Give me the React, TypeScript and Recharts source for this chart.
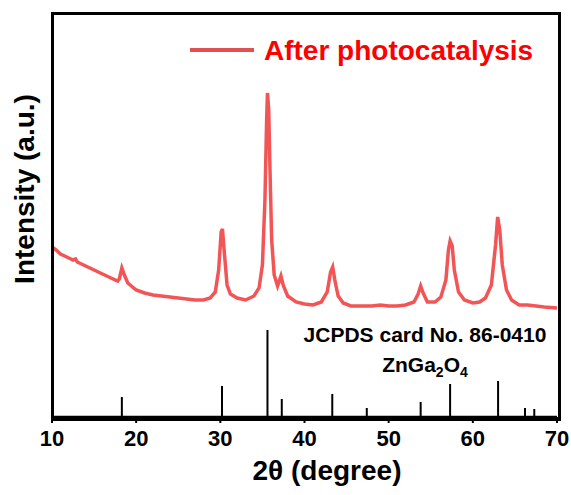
import {
  ComposedChart,
  Line,
  XAxis,
  YAxis,
  ReferenceLine
} from "recharts";

// measured pattern (2θ in degree, intensity in a.u.)
const twoTheta = [
  10, 10.5, 11, 11.5, 12, 12.5, 12.8, 13, 14, 15, 16, 17, 17.8, 18, 18.3, 18.6, 19, 20,
  21, 22, 23, 24, 25, 26, 27, 28, 28.8, 29.4, 29.8, 30.1, 30.25, 30.5, 30.8, 31.2, 32,
  33, 34, 34.6, 35, 35.3, 35.5, 35.6, 35.75, 35.9, 36.1, 36.4, 36.8, 37.2, 37.5, 38, 39,
  40, 41, 42, 42.7, 43.1, 43.35, 43.6, 44, 44.6, 45.5, 47, 48, 49, 50, 51, 52, 53, 53.5,
  53.8, 54.1, 54.6, 55.5, 56.2, 56.8, 57.1, 57.3, 57.55, 57.8, 58.3, 59, 60, 60.8, 61.5,
  62.2, 62.7, 62.95, 63.2, 63.5, 64, 64.6, 65.5, 66.5, 67.5, 68.5, 70
];
const intensity = [
  170, 167, 163, 161, 159, 157, 158, 155, 151, 147, 143, 139, 136, 138, 149, 142, 134, 127,
  124, 122, 121, 120, 119, 118, 117, 117, 119, 125, 147, 185, 188, 162, 132, 123, 119,
  117, 121, 129, 152, 217, 297, 324, 307, 247, 177, 142, 131, 141, 131, 121, 115,
  113, 112, 115, 125, 145, 150, 137, 121, 114, 111, 111, 111, 112, 111, 111, 112, 115, 123,
  131, 124, 115, 115, 120, 137, 167, 176, 171, 147, 125, 117, 114, 115, 119,
  132, 172, 200, 187, 152, 127, 117, 112, 112, 111, 110, 109
];

// JCPDS 86-0410 reference lines
const refTheta = [18.3, 30.2, 35.6, 37.3, 43.3, 47.4, 53.8, 57.3, 63.0, 66.2, 67.3];
const refHeight = [20, 31, 87, 18, 23, 9, 15, 33, 36, 9, 8];

const majorTicks = [10, 20, 30, 40, 50, 60, 70];
const minorTicks = [15, 25, 35, 45, 55, 65];

const data = twoTheta.map((t, i) => ({ t, y: intensity[i] }));
const allTicks = [...majorTicks, ...minorTicks].sort((a, b) => a - b);

const font = "'Liberation Sans', Arial, sans-serif";

const W = 571;
const H = 495;
const margin = { top: 13, right: 14, bottom: 0, left: 52 };
const xAxisHeight = 78;
const plotW = W - margin.left - margin.right;
const plotH = H - margin.top - xAxisHeight;

const XTick = (props: any) => {
  const { x, y, payload } = props;
  const major = majorTicks.includes(payload.value);
  return (
    <g>
      <line x1={x} x2={x} y1={y} y2={y + (major ? 6 : 3)} stroke="#000" strokeWidth={2} />
      {major && (
        <text x={x} y={y + 29} textAnchor="middle" fontFamily={font} fontWeight="bold" fontSize={22} fill="#000">
          {payload.value}
        </text>
      )}
    </g>
  );
};

export default function App() {
  return (
    <div style={{ position: "absolute", left: 0, top: 0, width: W, height: H, background: "#fff" }}>
      <ComposedChart width={W} height={H} data={data} margin={margin}>
        <XAxis
          dataKey="t"
          type="number"
          domain={[10, 70]}
          ticks={allTicks}
          interval={0}
          tick={<XTick />}
          tickLine={false}
          tickSize={0}
          tickMargin={0}
          height={xAxisHeight}
          axisLine={{ stroke: "#000", strokeWidth: 2.5 }}
        />
        <YAxis type="number" domain={[0, 404]} hide />
        {refTheta.map((t, i) => (
          <ReferenceLine key={t} segment={[{ x: t, y: 0 }, { x: t, y: refHeight[i] }]} stroke="#000" strokeWidth={2} />
        ))}
        <Line
          dataKey="y"
          type="linear"
          stroke="#f25555"
          strokeWidth={3.5}
          dot={false}
          isAnimationActive={false}
        />
        <line x1={190} x2={254} y1={50} y2={50} stroke="#e05252" strokeWidth={4} />
        <text x={264} y={60} fontFamily={font} fontWeight="bold" fontSize={28} fill="#ff0000">
          After photocatalysis
        </text>
        <text x={425} y={342} textAnchor="middle" fontFamily={font} fontWeight="bold" fontSize={21} fill="#000">
          JCPDS card No. 86-0410
        </text>
        <text x={425} y={372} textAnchor="middle" fontFamily={font} fontWeight="bold" fontSize={21} fill="#000">
          ZnGa
          <tspan fontSize={14} dy={5}>2</tspan>
          <tspan dy={-5}>O</tspan>
          <tspan fontSize={14} dy={5}>4</tspan>
        </text>
        <text x={327} y={480} textAnchor="middle" fontFamily={font} fontWeight="bold" fontSize={28} fill="#000">
          2θ (degree)
        </text>
        <text x={24} y={189} textAnchor="middle" dominantBaseline="central" transform="rotate(-90 24 189)" fontFamily={font} fontWeight="bold" fontSize={28} fill="#000">
          Intensity (a.u.)
        </text>
      </ComposedChart>
      {/* plot frame */}
      <div
        style={{
          position: "absolute",
          left: margin.left - 1,
          top: margin.top - 1,
          width: plotW - 1,
          height: plotH - 1,
          border: "3px solid #000",
          boxSizing: "content-box",
          pointerEvents: "none"
        }}
      />
    </div>
  );
}
